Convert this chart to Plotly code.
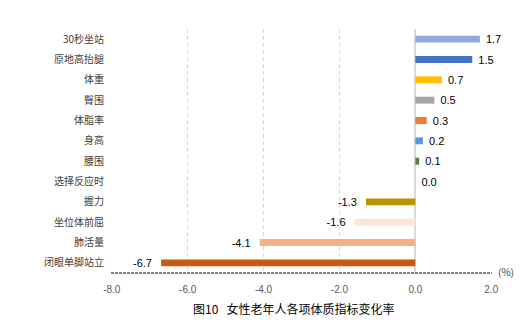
import plotly.graph_objects as go

categories = ["30秒坐站", "原地高抬腿", "体重", "臀围", "体脂率", "身高", "腰围",
              "选择反应时", "握力", "坐位体前屈", "肺活量", "闭眼单脚站立"]
values = [1.7, 1.5, 0.7, 0.5, 0.3, 0.2, 0.1, 0.0, -1.3, -1.6, -4.1, -6.7]
colors = ["#8FAADC", "#4472C4", "#FFC000", "#A5A5A5", "#ED7D31", "#5B9BD5", "#548235",
          "#FFFFFF", "#BF9000", "#FBE5D6", "#F4B183", "#C55A11"]
x_ticks = [-8, -6, -4, -2, 0, 2]
x_tick_labels = [f"{t:.1f}" for t in x_ticks]
title = "图10   女性老年人各项体质指标变化率"

font_cjk = "Noto Sans CJK SC, DejaVu Sans, sans-serif"
nb = "\u00a0"
labels = [(nb + f"{v:.1f}") if v >= 0 else (f"{v:.1f}" + nb + nb) for v in values]

fig = go.Figure(go.Bar(
    y=categories, x=values, orientation="h",
    marker=dict(color=colors, line=dict(width=0)),
    text=labels,
    textposition="outside",
    constraintext="none",
    textfont=dict(family="Liberation Sans, Arial, sans-serif", size=11, color="#000000"),
    cliponaxis=False,
))

fig.update_layout(
    width=525, height=335,
    margin=dict(l=111, r=33, t=29, b=62),
    paper_bgcolor="white", plot_bgcolor="white",
    bargap=0.66,
    showlegend=False,
    font=dict(family=font_cjk, size=10, color="#404040"),
    xaxis=dict(
        range=[-8.02, 2.02], tickvals=x_ticks, ticktext=x_tick_labels,
        showgrid=True, gridcolor="#D9D9D9", griddash="4px,3px", gridwidth=1,
        zeroline=True, zerolinecolor="#D9D9D9", zerolinewidth=1.5,
        showline=False, ticks="", ticklen=0, ticklabelstandoff=9,
        tickfont=dict(family="Liberation Sans, Arial, sans-serif", size=10, color="#595959"),
    ),
    yaxis=dict(
        categoryorder="array", categoryarray=categories, autorange="reversed",
        showgrid=False, zeroline=False, showline=False, ticks="",
        tickfont=dict(family=font_cjk, size=10, color="#404040"),
        ticklabelstandoff=6,
    ),
    shapes=[dict(type="line", xref="paper", yref="paper", x0=0, x1=1, y0=0, y1=0,
                 line=dict(color="#000000", width=1, dash="3px,1px"))],
    annotations=[
        dict(text="(%)", xref="paper", yref="paper", x=1.01, y=0.0, yshift=2, xanchor="left",
             yanchor="middle", showarrow=False,
             font=dict(family=font_cjk, size=10, color="#404040")),
        dict(text=title, xref="paper", yref="paper", x=0.48, y=0, yshift=-25,
             xanchor="center", yanchor="top", showarrow=False,
             font=dict(family=font_cjk, size=12, color="#000000")),
    ],
)

fig.write_html("out.html")
